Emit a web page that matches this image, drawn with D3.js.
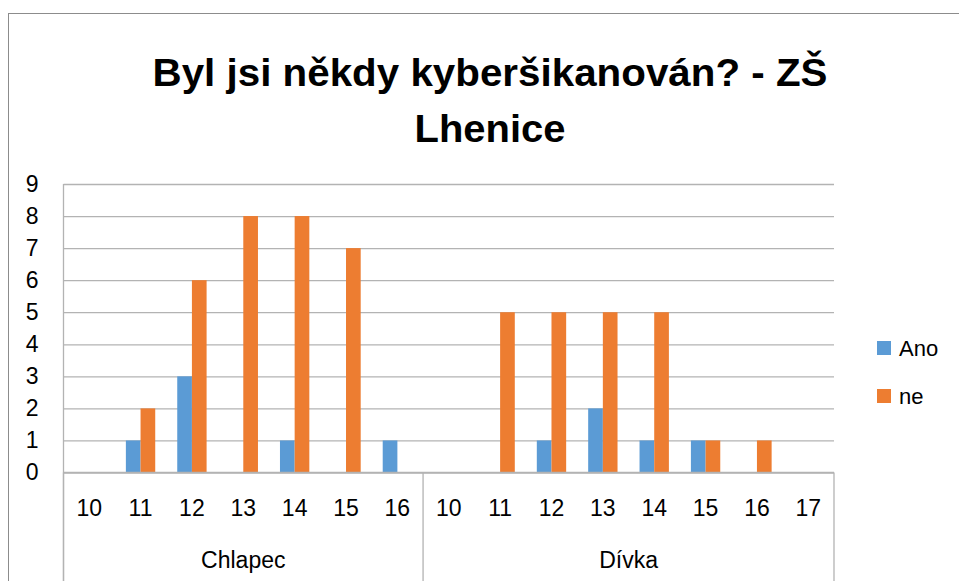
<!DOCTYPE html>
<html>
<head>
<meta charset="utf-8">
<script src="https://cdn.jsdelivr.net/npm/d3@7"></script>
<style>
  body { margin: 0; background: #fff; }
  svg { display: block; font-family: "Liberation Sans", Arial, sans-serif; }
</style>
</head>
<body>
<script>
// data
var groups = ["Chlapec", "Dívka"];
var ageLabels = [
  ["10", "11", "12", "13", "14", "15", "16"],
  ["10", "11", "12", "13", "14", "15", "16", "17"]
];
var series = ["Ano", "ne"];
var anoValues = [0, 1, 3, 0, 1, 0, 1,   0, 0, 1, 2, 1, 1, 0, 0];
var neValues  = [0, 2, 6, 8, 8, 7, 0,   0, 5, 5, 5, 5, 1, 1, 0];
var yTicks = [0, 1, 2, 3, 4, 5, 6, 7, 8, 9];

var colors = { "Ano": "#5B9BD5", "ne": "#ED7D31" };

var width = 959, height = 581;
var plotLeft = 63.5, plotRight = 834, plotTop = 184, plotBottom = 472.5;

// flatten categories
var cats = [];
ageLabels.forEach(function(list, gi) {
  list.forEach(function(a) {
    cats.push({ key: groups[gi] + "-" + a, group: groups[gi], age: a });
  });
});
cats.forEach(function(c, i) {
  c.Ano = anoValues[i];
  c.ne = neValues[i];
});

var svg = d3.select("body")
  .append("svg")
  .attr("width", width)
  .attr("height", height);

// chart border
svg.append("rect")
  .attr("x", 8.5)
  .attr("y", 13.5)
  .attr("width", 980)
  .attr("height", 600)
  .attr("fill", "white")
  .attr("stroke", "#8c8c8c")
  .attr("stroke-width", 1);

var x = d3.scaleBand()
  .domain(cats.map(function(c) { return c.key; }))
  .range([plotLeft, plotRight])
  .paddingInner(0)
  .paddingOuter(0);

var bw = x.bandwidth() / 3.5; // gap width 150%
var xs = d3.scaleBand()
  .domain(series)
  .range([x.bandwidth() / 2 - bw, x.bandwidth() / 2 + bw]);

var y = d3.scaleLinear()
  .domain([0, 9])
  .range([plotBottom, plotTop]);

// gridlines + y labels
var yAxis = svg.append("g")
  .attr("transform", "translate(" + plotLeft + ",0)")
  .call(d3.axisLeft(y)
    .tickValues(yTicks)
    .tickSizeInner(-(plotRight - plotLeft))
    .tickSizeOuter(0)
    .tickPadding(25)
    .tickFormat(d3.format("d")));
yAxis.select(".domain").remove();
yAxis.selectAll(".tick line")
  .attr("stroke", "#b3b3b3")
  .attr("stroke-width", 1.3);
yAxis.selectAll(".tick text")
  .attr("fill", "black")
  .style("font-size", "23px");

// vertical axis line
svg.append("line")
  .attr("x1", plotLeft).attr("x2", plotLeft)
  .attr("y1", plotTop).attr("y2", height + 5)
  .attr("stroke", "#b3b3b3")
  .attr("stroke-width", 1.3);

// bars
var catG = svg.selectAll("g.cat")
  .data(cats)
  .enter()
  .append("g")
  .attr("class", "cat")
  .attr("transform", function(d) { return "translate(" + x(d.key) + ",0)"; });

catG.selectAll("rect")
  .data(function(d) {
    return series.map(function(s) { return { s: s, v: d[s] }; });
  })
  .enter()
  .append("rect")
  .attr("x", function(d) { return xs(d.s); })
  .attr("width", xs.bandwidth())
  .attr("y", function(d) { return y(d.v); })
  .attr("height", function(d) { return y(0) - y(d.v); })
  .attr("fill", function(d) { return colors[d.s]; });

// category axis (two levels)
svg.append("line")
  .attr("x1", plotLeft).attr("x2", plotRight)
  .attr("y1", y(0)).attr("y2", y(0))
  .attr("stroke", "#b3b3b3")
  .attr("stroke-width", 1.3);

var groupEdges = [0];
ageLabels.forEach(function(list, gi) {
  groupEdges.push(groupEdges[gi] + list.length);
});
groupEdges.forEach(function(n) {
  var gx = n < cats.length ? x(cats[n].key) : plotRight;
  svg.append("line")
    .attr("x1", gx).attr("x2", gx)
    .attr("y1", y(0)).attr("y2", height + 5)
    .attr("stroke", "#b3b3b3")
    .attr("stroke-width", 1.3);
});

svg.selectAll("text.age")
  .data(cats)
  .enter()
  .append("text")
  .attr("class", "age")
  .attr("x", function(d) { return x(d.key) + x.bandwidth() / 2; })
  .attr("y", 516)
  .attr("text-anchor", "middle")
  .attr("fill", "black")
  .style("font-size", "23px")
  .text(function(d) { return d.age; });

svg.selectAll("text.group")
  .data(groups)
  .enter()
  .append("text")
  .attr("class", "group")
  .attr("x", function(g, gi) {
    var a = x(cats[groupEdges[gi]].key);
    var b = groupEdges[gi + 1] < cats.length ? x(cats[groupEdges[gi + 1]].key) : plotRight;
    return (a + b) / 2;
  })
  .attr("y", 568)
  .attr("text-anchor", "middle")
  .attr("fill", "black")
  .style("font-size", "23px")
  .text(function(g) { return g; });

// legend
var legend = svg.selectAll("g.legend")
  .data(series)
  .enter()
  .append("g")
  .attr("class", "legend")
  .attr("transform", function(d, i) { return "translate(877," + (341 + i * 48) + ")"; });
legend.append("rect")
  .attr("width", 14)
  .attr("height", 14)
  .attr("fill", function(d) { return colors[d]; });
legend.append("text")
  .attr("x", 22)
  .attr("y", 15)
  .attr("fill", "black")
  .style("font-size", "22px")
  .text(function(d) { return d; });

// title
svg.append("text")
  .attr("x", 490)
  .attr("y", 86)
  .attr("text-anchor", "middle")
  .attr("textLength", 675)
  .attr("lengthAdjust", "spacingAndGlyphs")
  .attr("fill", "black")
  .style("font-size", "39px")
  .style("font-weight", "bold")
  .text("Byl jsi někdy kyberšikanován? - ZŠ");
svg.append("text")
  .attr("x", 490)
  .attr("y", 142)
  .attr("text-anchor", "middle")
  .attr("textLength", 151)
  .attr("lengthAdjust", "spacingAndGlyphs")
  .attr("fill", "black")
  .style("font-size", "39px")
  .style("font-weight", "bold")
  .text("Lhenice");
</script>
</body>
</html>
